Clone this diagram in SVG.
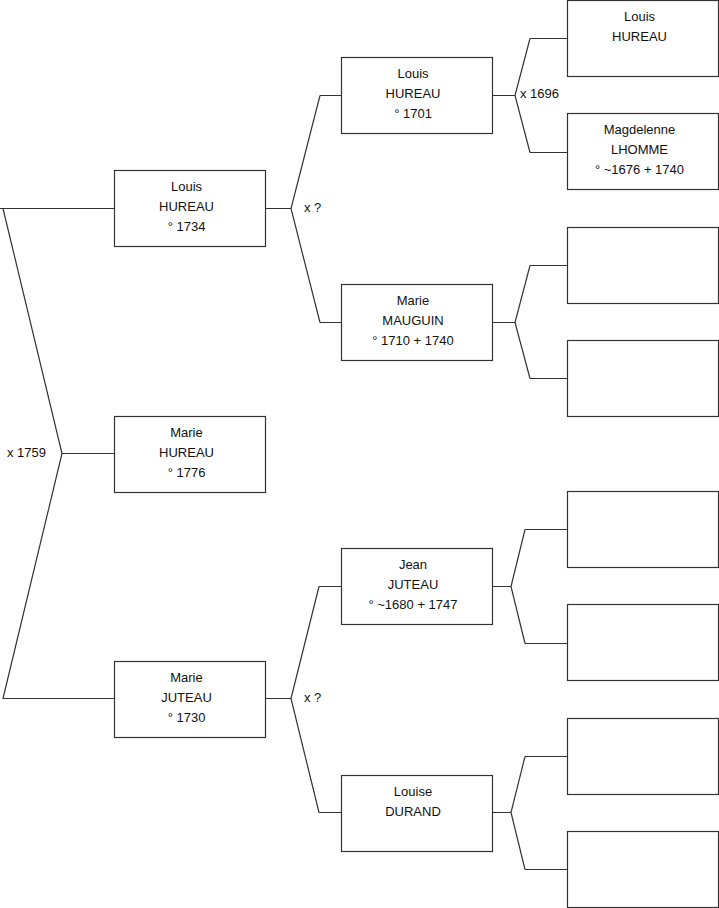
<svg xmlns="http://www.w3.org/2000/svg" width="719" height="908" viewBox="0 0 719 908">
<style>
.box{fill:#fff;stroke:#333;stroke-width:1.2}
.ln{fill:none;stroke:#333;stroke-width:1.2}
text{font-family:"Liberation Sans",Arial,sans-serif;font-size:13px;fill:#111}
.c{text-anchor:middle}
</style>
<rect width="719" height="908" fill="#fff"/>
<g id="connectors">
<path class="ln" d="M0,208.5 H114 M3,208.5 L62,453.5 L3,698.5 H114 M62,453.5 H114"/>
<path class="ln" d="M265,208.5 H291 M320,95.5 L291,208.5 L320,322.5 M320,95.5 H341 M320,322.5 H341"/>
<path class="ln" d="M265,698.5 H291 M319,586.5 L291,698.5 L319,812.5 M319,586.5 H341 M319,812.5 H341"/>
<path class="ln" d="M492,95.5 H515 M530,38.5 L515,95.5 L530,152.5 M530,38.5 H567 M530,152.5 H567"/>
<path class="ln" d="M492,322.5 H515 M530,265.5 L515,322.5 L530,378.5 M530,265.5 H567 M530,378.5 H567"/>
<path class="ln" d="M492,586.5 H511 M525,529.5 L511,586.5 L525,643.5 M525,529.5 H567 M525,643.5 H567"/>
<path class="ln" d="M492,812.5 H511 M525,756.5 L511,812.5 L525,869.5 M525,756.5 H567 M525,869.5 H567"/>
<text x="7" y="456.5">x 1759</text>
<text x="304" y="211.5">x ?</text>
<text x="304" y="701.5">x ?</text>
<text x="520" y="98">x 1696</text>
</g>
<g id="n1"><rect class="box" x="114.5" y="170.5" width="151" height="76"/>
<text class="c" x="186.5" y="191">Louis</text><text class="c" x="186.5" y="211">HUREAU</text><text class="c" x="186.5" y="231">° 1734</text></g>
<g id="n2"><rect class="box" x="114.5" y="416.5" width="151" height="76"/>
<text class="c" x="186.5" y="437">Marie</text><text class="c" x="186.5" y="457">HUREAU</text><text class="c" x="186.5" y="477">° 1776</text></g>
<g id="n3"><rect class="box" x="114.5" y="661.5" width="151" height="76"/>
<text class="c" x="186.5" y="682">Marie</text><text class="c" x="186.5" y="702">JUTEAU</text><text class="c" x="186.5" y="722">° 1730</text></g>
<g id="n4"><rect class="box" x="341.5" y="57.5" width="151" height="76"/>
<text class="c" x="413" y="78">Louis</text><text class="c" x="413" y="98">HUREAU</text><text class="c" x="413" y="118">° 1701</text></g>
<g id="n5"><rect class="box" x="341.5" y="284.5" width="151" height="76"/>
<text class="c" x="413" y="305">Marie</text><text class="c" x="413" y="325">MAUGUIN</text><text class="c" x="413" y="345">° 1710 + 1740</text></g>
<g id="n6"><rect class="box" x="341.5" y="548.5" width="151" height="76"/>
<text class="c" x="413" y="569">Jean</text><text class="c" x="413" y="589">JUTEAU</text><text class="c" x="413" y="609">° ~1680 + 1747</text></g>
<g id="n7"><rect class="box" x="341.5" y="775.5" width="151" height="76"/>
<text class="c" x="413" y="796">Louise</text><text class="c" x="413" y="816">DURAND</text></g>
<g id="n8"><rect class="box" x="567.5" y="0.5" width="151" height="76"/>
<text class="c" x="639.5" y="21">Louis</text><text class="c" x="639.5" y="41">HUREAU</text></g>
<g id="n9"><rect class="box" x="567.5" y="113.5" width="151" height="76"/>
<text class="c" x="639.5" y="134">Magdelenne</text><text class="c" x="639.5" y="154">LHOMME</text><text class="c" x="639.5" y="174">° ~1676 + 1740</text></g>
<g id="n10"><rect class="box" x="567.5" y="227.5" width="151" height="76"/></g>
<g id="n11"><rect class="box" x="567.5" y="340.5" width="151" height="76"/></g>
<g id="n12"><rect class="box" x="567.5" y="491.5" width="151" height="76"/></g>
<g id="n13"><rect class="box" x="567.5" y="604.5" width="151" height="76"/></g>
<g id="n14"><rect class="box" x="567.5" y="718.5" width="151" height="76"/></g>
<g id="n15"><rect class="box" x="567.5" y="831.5" width="151" height="76"/></g>
</svg>
